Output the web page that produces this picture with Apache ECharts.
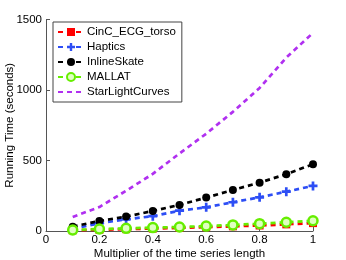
<!DOCTYPE html>
<html><head><meta charset="utf-8">
<script src="https://cdn.jsdelivr.net/npm/echarts@6/dist/echarts.min.js"></script>
<style>html,body{margin:0;padding:0;background:#fff}#c{width:346px;height:260px}</style>
</head><body><div id="c"></div>
<script>
const xValues = [0.1,0.2,0.3,0.4,0.5,0.6,0.7,0.8,0.9,1.0];
const cincEcgTorso = [5,9,13,17,22,27,33,39,47,56];
const haptics = [15,55,83,105,144,168,204,239,279,320];
const inlineSkate = [31,71,102,142,185,237,291,343,403,474];
const mallat = [7,14,19,24,28,35,43,52,62,73];
const starLightCurves = [100,170,285,405,550,690,845,1015,1230,1405];
const xTicks = [0,0.2,0.4,0.6,0.8,1];
const yTicks = [0,500,1000,1500];

const font = 'Liberation Sans, Arial, sans-serif';
const fs = 11.5;
const pairs = arr => xValues.map((x,i)=>[x,arr[i]]);
const plus = 'path://M3.5,0 H6.5 V3.5 H10 V6.5 H6.5 V10 H3.5 V6.5 H0 V3.5 H3.5 Z';
function s(name, data, color, symbol, size, itemStyle){
  return {name, type:'line', data:pairs(data), symbol, symbolSize:size, showSymbol: symbol!=='none',
    lineStyle:{color, width:2.7, type:[5,4]}, itemStyle:Object.assign({color}, itemStyle||{}), animation:false, z: 2};
}
const chart = echarts.init(document.getElementById('c'), null, {renderer:'canvas'});
chart.setOption({
  animation:false,
  textStyle:{fontFamily:font},
  grid:{left:46, right:33, top:19.5, bottom:29, outerBoundsMode:'none', containLabel:false},
  legend:{
    left:53, top:22, orient:'vertical', itemGap:3, itemWidth:26, itemHeight:10,
    backgroundColor:'#fff', borderColor:'#444', borderWidth:1, padding:[4,6,4,4],
    textStyle:{fontSize:fs, color:'#000', fontFamily:font, padding:[0,0,0,-2]},
    data:['CinC_ECG_torso','Haptics','InlineSkate','MALLAT',
      {name:'StarLightCurves', itemStyle:{color:'rgba(0,0,0,0)', borderWidth:0}}]
  },
  xAxis:{type:'value', min:0, max:1, interval:0.2, name:'Multiplier of the time series length',
    nameLocation:'middle', nameGap:17, nameMoveOverlap:false, nameTextStyle:{fontSize:fs, color:'#000', fontFamily:font},
    axisLine:{lineStyle:{color:'#555'}}, axisTick:{inside:true, length:4, lineStyle:{color:'#555'}},
    axisLabel:{fontSize:fs, color:'#000', margin:3, formatter:v=>xTicks.includes(+v.toFixed(1))?String(+v.toFixed(1)):''},
    splitLine:{show:false}},
  yAxis:{type:'value', min:0, max:1500, interval:500, name:'Running Time (seconds)',
    nameLocation:'middle', nameGap:30, nameMoveOverlap:false, nameTextStyle:{fontSize:fs, color:'#000', fontFamily:font},
    axisLine:{show:true, lineStyle:{color:'#555'}}, axisTick:{show:true, inside:true, length:4, lineStyle:{color:'#555'}},
    axisLabel:{fontSize:fs, color:'#000', margin:4, formatter:v=>yTicks.includes(v)?String(v):''},
    splitLine:{show:false}},
  series:[
    s('CinC_ECG_torso', cincEcgTorso, '#ff0000', 'rect', 8),
    s('Haptics', haptics, '#2d4ef5', plus, 9),
    s('InlineSkate', inlineSkate, '#000000', 'circle', 8),
    s('MALLAT', mallat, '#66ee00', 'circle', 9, {color:'#dfffc0', borderWidth:2.5, borderColor:'#66ee00'}),
    s('StarLightCurves', starLightCurves, '#b030f0', 'none', 0)
  ]
});
</script></body></html>
